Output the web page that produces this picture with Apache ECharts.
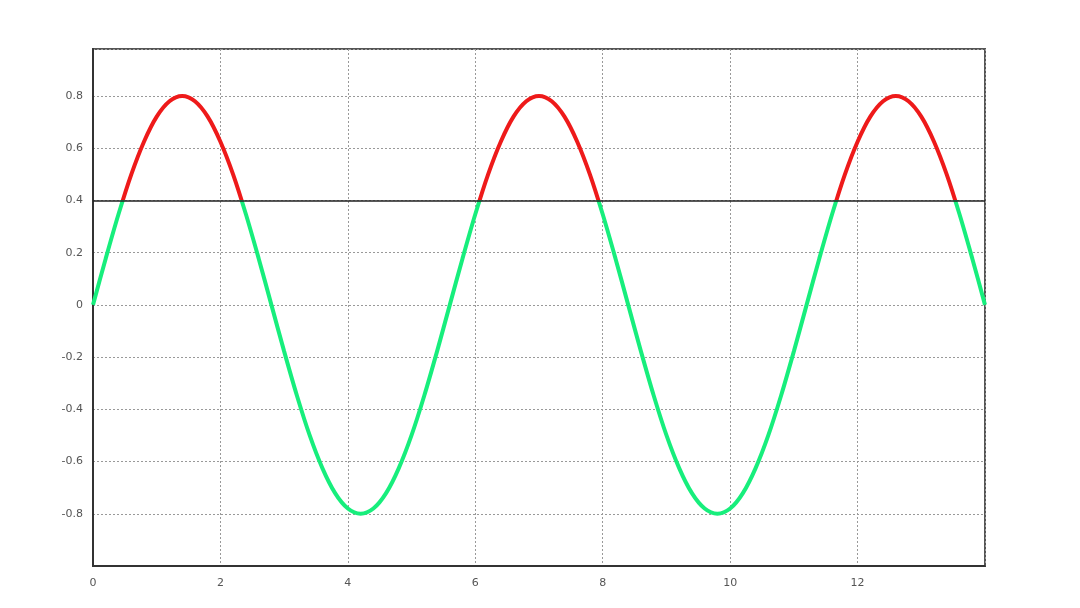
<!DOCTYPE html>
<html>
<head>
<meta charset="utf-8">
<script src="https://cdn.jsdelivr.net/npm/echarts@6/dist/echarts.min.js"></script>
<style>html,body{margin:0;padding:0;background:#fff;}#c{width:1080px;height:608px;}</style>
</head>
<body>
<div id="c"></div>
<script>
var xs = [0,0.2,0.4,0.6,0.8,1,1.2,1.4,1.6,1.8,2,2.2,2.4,2.6,
  2.8,3,3.2,3.4,3.6,3.8,4,4.2,4.4,4.6,4.8,5,5.2,5.4,
  5.6,5.8,6,6.2,6.4,6.6,6.8,7,7.2,7.4,7.6,7.8,8,8.2,
  8.4,8.6,8.8,9,9.2,9.4,9.6,9.8,10,10.2,10.4,10.6,10.8,11,
  11.2,11.4,11.6,11.8,12,12.2,12.4,12.6,12.8,13,13.2,13.4,13.6,13.8,
  14];
var ys = [0,0.178,0.347,0.499,0.625,0.721,0.780,0.8,0.780,0.721,0.625,0.499,0.347,0.178,
  0,-0.178,-0.347,-0.499,-0.625,-0.721,-0.780,-0.8,-0.780,-0.721,-0.625,-0.499,-0.347,-0.178,
  0,0.178,0.347,0.499,0.625,0.721,0.780,0.8,0.780,0.721,0.625,0.499,0.347,0.178,
  0,-0.178,-0.347,-0.499,-0.625,-0.721,-0.780,-0.8,-0.780,-0.721,-0.625,-0.499,-0.347,-0.178,
  0,0.178,0.347,0.499,0.625,0.721,0.780,0.8,0.780,0.721,0.625,0.499,0.347,0.178,
  0];
var threshold = 0.4;
var xTicks = [0,2,4,6,8,10,12];
var yTicks = [-0.8,-0.6,-0.4,-0.2,0,0.2,0.4,0.6,0.8];

var data = xs.map(function(x,i){return [x, ys[i]];});
var chart = echarts.init(document.getElementById('c'), null, {renderer:'canvas'});
var labelStyle = {color:'#555', fontSize:11, fontFamily:'DejaVu Sans'};
chart.setOption({
  animation:false,
  backgroundColor:'#fff',
  grid:{left:93, top:49, right:95, bottom:42, show:true, borderColor:'#555', borderWidth:2, backgroundColor:'transparent'},
  xAxis:{type:'value', min:0, max:14, interval:2,
    axisLine:{show:true, onZero:false, lineStyle:{color:'#333', width:2}},
    axisTick:{show:false},
    axisLabel:Object.assign({margin:12, showMaxLabel:false}, labelStyle),
    splitLine:{show:true, lineStyle:{color:'#999', type:[2,2], width:1}}
  },
  yAxis:{type:'value', min:-1, max:0.98, interval:0.2,
    axisLine:{show:true, onZero:false, lineStyle:{color:'#333', width:2}},
    axisTick:{show:false},
    axisLabel:Object.assign({margin:10, showMinLabel:false, showMaxLabel:false,
      formatter:function(v){var r=Math.round(v*10)/10; return yTicks.indexOf(r)>=0 ? String(r) : '';}}, labelStyle),
    splitLine:{show:true, lineStyle:{color:'#999', type:[2,2], width:1}}
  },
  visualMap:{type:'piecewise', show:false, dimension:1, seriesIndex:0,
    pieces:[{gte:-2, lte:threshold, color:'#17ee7c'},{gt:threshold, lte:2, color:'#ee1a1a'}]},
  series:[{
    type:'line', data:data, showSymbol:false, smooth:0.3,
    lineStyle:{width:4}
  },{
    type:'line', data:[], silent:true,
    markLine:{silent:true, symbol:['none','none'], label:{show:false},
      lineStyle:{color:'#222', width:1.5, type:'solid'},
      data:[{yAxis:threshold}]}
  }]
});
</script>
</body>
</html>
